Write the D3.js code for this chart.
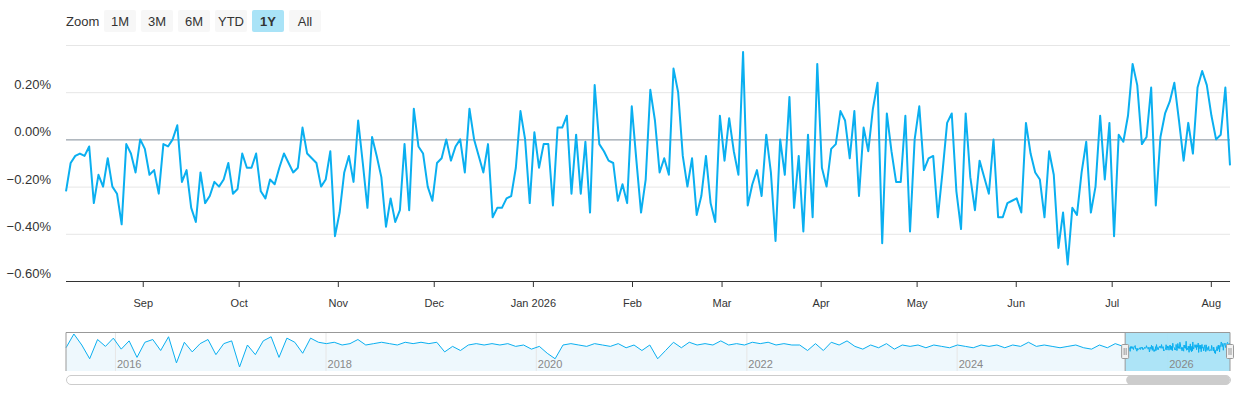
<!DOCTYPE html>
<html>
<head>
<meta charset="utf-8">
<script src="https://cdn.jsdelivr.net/npm/d3@7"></script>
<style>
  body { margin: 0; background: #fff; font-family: "Liberation Sans", Arial, sans-serif; }
  svg text { font-family: "Liberation Sans", Arial, sans-serif; }
</style>
</head>
<body>
<svg id="chart" width="1240" height="400"></svg>
<script>
(function () {
  "use strict";

  // daily values for the shown year (%)
  var yearValues = [
    -0.22,-0.10,-0.07,-0.06,-0.07,-0.03,-0.27,-0.15,-0.20,-0.08,-0.20,-0.23,-0.36,-0.02,-0.06,-0.14,
    0.00,-0.04,-0.15,-0.13,-0.23,-0.02,-0.03,0.00,0.06,-0.18,-0.13,-0.29,-0.35,-0.14,-0.27,-0.24,
    -0.18,-0.20,-0.17,-0.10,-0.23,-0.21,-0.06,-0.12,-0.12,-0.06,-0.22,-0.25,-0.17,-0.19,-0.12,-0.06,
    -0.10,-0.14,-0.12,0.05,-0.06,-0.08,-0.10,-0.20,-0.17,-0.05,-0.41,-0.31,-0.14,-0.07,-0.18,0.08,
    -0.10,-0.29,0.01,-0.07,-0.16,-0.37,-0.25,-0.35,-0.30,-0.02,-0.30,0.13,-0.03,-0.06,-0.20,-0.26,
    -0.10,-0.08,0.00,-0.09,-0.03,0.00,-0.14,0.13,0.00,-0.07,-0.14,-0.02,-0.33,-0.29,-0.29,-0.25,
    -0.24,-0.12,0.12,0.00,-0.27,0.03,-0.12,-0.02,-0.02,-0.28,0.05,0.05,0.10,-0.23,0.02,-0.23,
    -0.01,-0.31,0.23,-0.02,-0.05,-0.09,-0.10,-0.26,-0.19,-0.27,0.14,-0.09,-0.31,-0.17,
    0.21,0.08,-0.14,-0.08,-0.15,0.30,0.20,-0.07,-0.20,-0.08,-0.32,-0.24,-0.07,-0.27,-0.35,0.10,
    -0.09,0.09,-0.05,-0.15,0.37,-0.28,-0.19,-0.13,-0.24,0.02,-0.14,-0.43,0.00,-0.15,0.18,-0.29,
    -0.07,-0.39,0.02,-0.33,0.32,-0.12,-0.20,-0.04,-0.02,0.12,0.08,-0.08,0.12,-0.24,0.05,-0.05,
    0.13,0.24,-0.44,0.11,-0.05,-0.18,-0.18,0.10,-0.39,0.00,0.14,-0.13,-0.08,-0.07,-0.33,
    -0.14,0.07,0.11,-0.22,-0.38,0.11,-0.16,-0.30,-0.09,-0.16,-0.23,0.00,-0.33,-0.33,-0.27,-0.26,
    -0.25,-0.31,0.07,-0.06,-0.14,-0.17,-0.33,-0.05,-0.15,-0.46,-0.31,-0.53,-0.29,-0.32,-0.14,-0.01,
    -0.31,-0.20,0.10,-0.17,0.07,-0.41,0.02,-0.01,0.10,0.32,0.23,-0.02,0.01,0.22,-0.28,0.01,
    0.11,0.16,0.24,0.08,-0.09,0.07,-0.06,0.22,0.29,0.23,0.10,0.00,0.02,0.22,-0.11
  ];

  // coarse history for the navigator, mid 2015 to mid 2025 (%)
  var historyValues = [
    -0.1,0.9,0.1,-0.9,0.5,0.0,0.6,-0.2,0.4,-0.8,0.3,0.5,-0.3,0.7,-1.2,0.3,-0.4,0.2,
    0.5,-0.6,0.2,0.4,-1.5,0.1,-0.6,0.4,0.7,-0.8,0.6,0.3,-0.5,0.6,
    0.3,0.2,0.3,0.1,0.2,0.5,0.1,0.2,0.3,0.2,0.1,0.3,0.2,0.3,0.2,
    0.3,-0.4,0.0,-0.3,0.1,0.2,0.1,0.2,0.1,0.2,0.0,0.1,-0.2,0.0,-0.5,-0.9,0.1,0.2,0.1,0.0,0.2,0.1,0.0,0.2,-0.1,0.1,
    -0.3,0.1,-0.9,-0.3,0.3,-0.1,0.3,0.1,0.2,0.1,0.4,0.1,0.2,0.1,0.3,0.2,0.3,0.1,0.2,0.1,
    0.1,-0.3,0.2,-0.3,0.3,0.1,0.4,0.0,-0.2,0.1,-0.1,0.2,-0.2,0.1,0.0,0.1,-0.1,0.1,0.0,-0.1,0.1,0.0,-0.1,0.1,
    0.0,0.1,-0.1,0.1,0.0,0.3,0.0,0.1,0.0,-0.1,0.0,0.1,-0.1,-0.2,0.1,-0.1,0.2,0.0
  ];

  var yTicks = [-0.6, -0.4, -0.2, 0, 0.2, 0.4];
  var zoomButtons = ["1M", "3M", "6M", "YTD", "1Y", "All"];
  var selectedButton = "1Y";

  var yearStart = new Date(2025, 7, 8), yearEnd = new Date(2026, 7, 7);
  var histStart = new Date(2015, 6, 15);

  function spread(values, a, b) {
    var step = (b - a) / (values.length - 1);
    return values.map(function (v, i) { return { date: new Date(+a + i * step), value: v }; });
  }
  var yearData = spread(yearValues, yearStart, yearEnd);
  var histData = spread(historyValues, histStart, new Date(2025, 7, 1));
  var allData = histData.concat(yearData);

  var svg = d3.select("#chart");
  var left = 66, right = 1230, top = 45, bottom = 281;

  // zoom buttons
  svg.append("text").attr("x", 66).attr("y", 26).attr("font-size", 13).attr("fill", "#333").text("Zoom");
  var bx = 104;
  zoomButtons.forEach(function (b) {
    var w = 32, sel = b === selectedButton;
    svg.append("rect").attr("x", bx).attr("y", 10).attr("width", w).attr("height", 22).attr("rx", 2)
      .attr("fill", sel ? "#a9e3f7" : "#f7f7f7");
    svg.append("text").attr("x", bx + w / 2).attr("y", 26).attr("text-anchor", "middle")
      .attr("font-size", 13).attr("font-weight", sel ? "bold" : "normal").attr("fill", "#333").text(b);
    bx += w + 5;
  });

  var x = d3.scaleTime().domain([yearStart, yearEnd]).range([left, right]);
  var y = d3.scaleLinear().domain([-0.6, 0.4]).range([bottom, top]);

  // grid
  svg.append("g").selectAll("line").data(yTicks).join("line")
    .attr("x1", left).attr("x2", right)
    .attr("y1", function (d) { return y(d) + 0.5; }).attr("y2", function (d) { return y(d) + 0.5; })
    .attr("stroke", function (d) { return d === 0 ? "#7f8a96" : "#e6e6e6"; });
  svg.append("g").selectAll("text").data(yTicks.filter(function (d) { return d < 0.4; })).join("text")
    .attr("x", 51).attr("y", function (d) { return y(d) - 3; }).attr("text-anchor", "end")
    .attr("font-size", 13).attr("fill", "#333")
    .text(function (d) { return d3.format(".2f")(d) + "%"; });

  // x axis
  var xAxis = d3.axisBottom(x).ticks(d3.timeMonth.every(1)).tickSize(6).tickPadding(12)
    .tickFormat(function (d) { return d.getMonth() === 0 ? "Jan " + d.getFullYear() : d3.timeFormat("%b")(d); });
  var gx = svg.append("g").attr("transform", "translate(0," + bottom + ")").call(xAxis);
  gx.select(".domain").attr("stroke", "#333").attr("d", "M" + left + ",0.5H" + right);
  gx.selectAll(".tick line").attr("stroke", "#333");
  gx.selectAll(".tick text").attr("font-size", 11).attr("fill", "#333")
    .attr("font-family", "Liberation Sans, Arial, sans-serif");

  // main line
  var line = d3.line().x(function (d) { return x(d.date); }).y(function (d) { return y(d.value); });
  svg.append("path").datum(yearData).attr("d", line).attr("fill", "none")
    .attr("stroke", "#0aaff0").attr("stroke-width", 2).attr("stroke-linejoin", "round");

  // navigator
  var nTop = 332, nBottom = 371;
  var nx = d3.scaleTime().domain([histStart, yearEnd]).range([left, right]);
  var ny = d3.scaleLinear().domain(d3.extent(allData, function (d) { return d.value; })).range([nBottom - 4, nTop + 2]);
  var nav = svg.append("g");
  nav.append("path").datum(allData)
    .attr("d", d3.area().x(function (d) { return nx(d.date); }).y0(nBottom).y1(function (d) { return ny(d.value); }))
    .attr("fill", "#eef8fd");
  var years = d3.timeYear.every(2).range(new Date(2016, 0, 1), new Date(2027, 0, 1));
  nav.selectAll("line.yr").data(years).join("line").attr("class", "yr")
    .attr("x1", function (d) { return nx(d) + 0.5; }).attr("x2", function (d) { return nx(d) + 0.5; })
    .attr("y1", nTop).attr("y2", nBottom).attr("stroke", "#e6e6e6");
  var selX0 = nx(yearStart);
  nav.append("rect").attr("x", selX0).attr("y", nTop).attr("width", right - selX0).attr("height", nBottom - nTop)
    .attr("fill", "#a9e3f7").attr("fill-opacity", 0.95);
  nav.append("path").datum(allData).attr("d", d3.line().x(function (d) { return nx(d.date); }).y(function (d) { return ny(d.value); }))
    .attr("fill", "none").attr("stroke", "#0aaff0").attr("stroke-width", 1);
  nav.selectAll("text.yr").data(years).join("text").attr("class", "yr")
    .attr("x", function (d) { return nx(d) + 2; }).attr("y", 368).attr("font-size", 11).attr("fill", "#888")
    .text(function (d) { return d.getFullYear(); });
  nav.append("path")
    .attr("d", "M" + left + "," + (nTop + 0.5) + "H" + right + "V" + nBottom + "M" + left + "," + (nTop + 0.5) + "V" + nBottom)
    .attr("fill", "none").attr("stroke", "#999");
  nav.append("line").attr("x1", selX0).attr("x2", selX0).attr("y1", nTop).attr("y2", nBottom).attr("stroke", "#999");
  [selX0, right].forEach(function (hx) {
    nav.append("rect").attr("x", hx - 3.5).attr("y", 344.5).attr("width", 7).attr("height", 14).attr("rx", 1)
      .attr("fill", "#f2f2f2").attr("stroke", "#999");
    nav.append("line").attr("x1", hx - 1).attr("x2", hx - 1).attr("y1", 348).attr("y2", 355).attr("stroke", "#999");
    nav.append("line").attr("x1", hx + 1).attr("x2", hx + 1).attr("y1", 348).attr("y2", 355).attr("stroke", "#999");
  });

  // scrollbar
  svg.append("rect").attr("x", 66.5).attr("y", 375.5).attr("width", right - 66).attr("height", 9).attr("rx", 4.5)
    .attr("fill", "#fff").attr("stroke", "#ccc");
  svg.append("rect").attr("x", selX0 + 1).attr("y", 375.5).attr("width", right - selX0 - 1).attr("height", 9).attr("rx", 4.5)
    .attr("fill", "#ccc");
}());
</script>
</body>
</html>
